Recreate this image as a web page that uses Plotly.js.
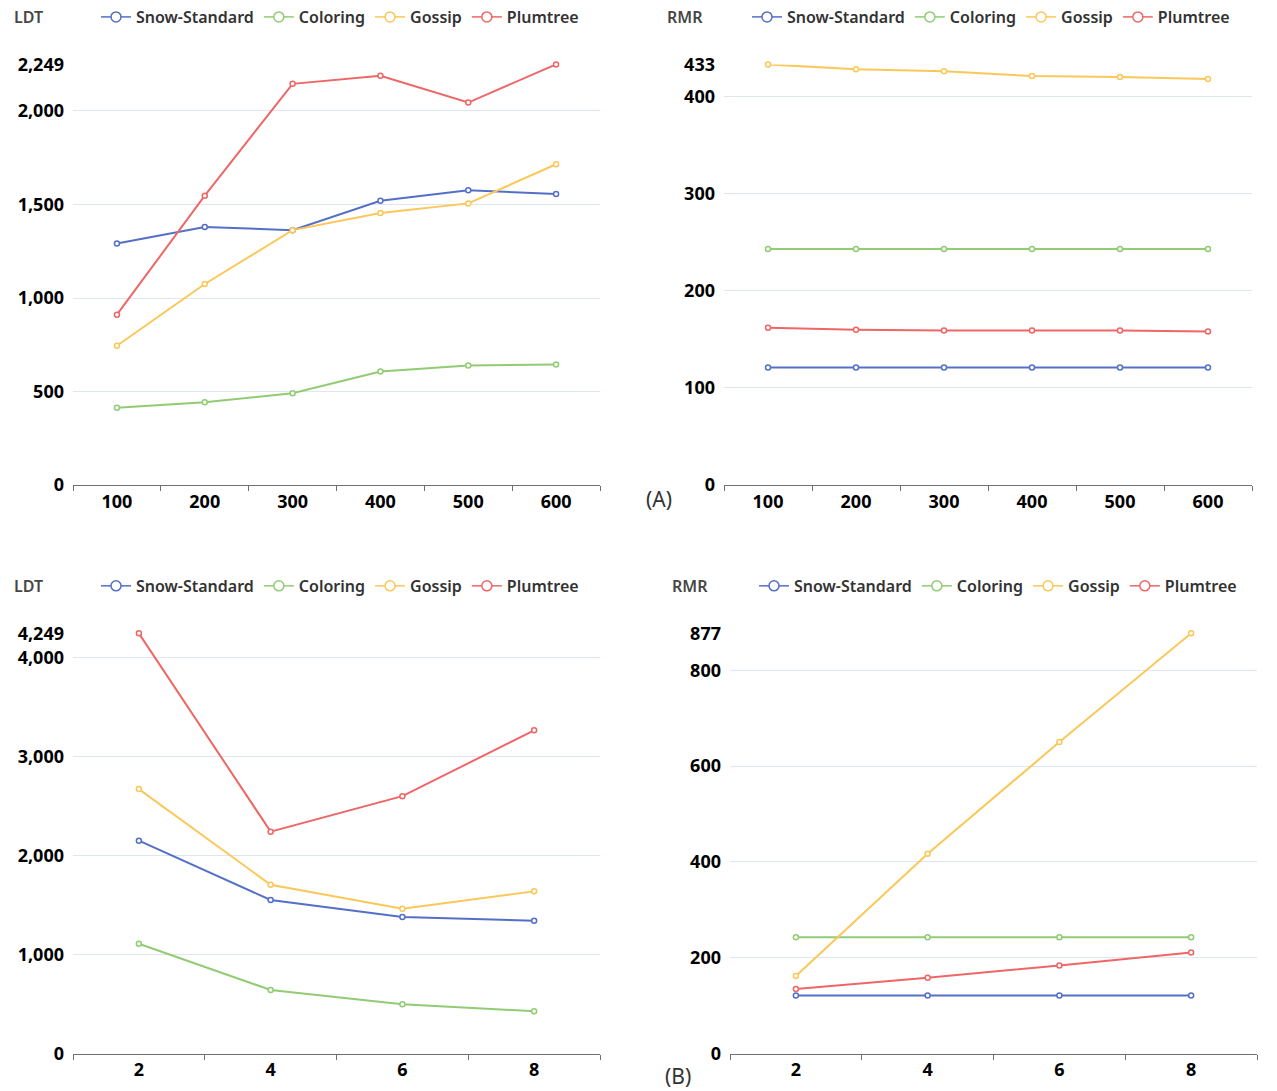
<!DOCTYPE html>
<html>
<head>
<meta charset="utf-8">
<script src="https://cdn.plot.ly/plotly-3.0.1.min.js"></script>
<style>
html,body{margin:0;padding:0;background:#fff;}
#chart{width:1277px;height:1091px;}
</style>
</head>
<body>
<div id="chart"></div>
<script>
// ---- data ----
var seriesNames = ['Snow-Standard', 'Coloring', 'Gossip', 'Plumtree'];
var seriesColors = ['#5470c6', '#91cc75', '#fac858', '#ee6666'];

var xTop = ['100', '200', '300', '400', '500', '600'];
var xBottom = ['2', '4', '6', '8'];

// (A) LDT
var ldtTopSnow = [1291, 1380, 1363, 1520, 1576, 1556];
var ldtTopColoring = [413, 443, 491, 607, 639, 645];
var ldtTopGossip = [745, 1075, 1363, 1454, 1506, 1715];
var ldtTopPlumtree = [911, 1547, 2145, 2188, 2045, 2249];
// (A) RMR
var rmrTopSnow = [121, 121, 121, 121, 121, 121];
var rmrTopColoring = [243, 243, 243, 243, 243, 243];
var rmrTopGossip = [433, 428, 426, 421, 420, 418];
var rmrTopPlumtree = [162, 160, 159, 159, 159, 158];
// (B) LDT
var ldtBotSnow = [2153, 1553, 1382, 1344];
var ldtBotColoring = [1110, 643, 498, 428];
var ldtBotGossip = [2674, 1707, 1465, 1640];
var ldtBotPlumtree = [4249, 2244, 2603, 3268];
// (B) RMR
var rmrBotSnow = [121, 121, 121, 121];
var rmrBotColoring = [243, 243, 243, 243];
var rmrBotGossip = [162, 417, 650, 877];
var rmrBotPlumtree = [135, 158, 184, 211];

// y tick values
var yTicksTL = [0, 500, 1000, 1500, 2000, 2249];
var yTicksTR = [0, 100, 200, 300, 400, 433];
var yTicksBL = [0, 1000, 2000, 3000, 4000, 4249];
var yTicksBR = [0, 200, 400, 600, 800, 877];

var axisNames = ['LDT', 'RMR', 'LDT', 'RMR'];
var panelLabels = ['(A)', '(B)'];

// ---- build ----
var W = 1277, H = 1091;
var FONT = 'Noto Sans, Open Sans, DejaVu Sans, sans-serif';

var panels = [
  {x: xTop, ys: [ldtTopSnow, ldtTopColoring, ldtTopGossip, ldtTopPlumtree], ticks: yTicksTL,
   px: [73, 600], py: [62.5, 484], legend: 'legend', legX: 96, nameX: 12, legY: 15},
  {x: xTop, ys: [rmrTopSnow, rmrTopColoring, rmrTopGossip, rmrTopPlumtree], ticks: yTicksTR,
   px: [724, 1252], py: [62.5, 484], legend: 'legend2', legX: 747, nameX: 665, legY: 15},
  {x: xBottom, ys: [ldtBotSnow, ldtBotColoring, ldtBotGossip, ldtBotPlumtree], ticks: yTicksBL,
   px: [73, 600], py: [632.5, 1053.5], legend: 'legend3', legX: 96, nameX: 12, legY: 585},
  {x: xBottom, ys: [rmrBotSnow, rmrBotColoring, rmrBotGossip, rmrBotPlumtree], ticks: yTicksBR,
   px: [730, 1257], py: [632.5, 1053.5], legend: 'legend4', legX: 754, nameX: 670, legY: 585}
];

var traces = [];
var layout = {
  width: W, height: H,
  margin: {l: 0, r: 0, t: 0, b: 0},
  paper_bgcolor: '#fff', plot_bgcolor: '#fff',
  font: {family: FONT, color: '#333'},
  annotations: [],
  hovermode: false
};

panels.forEach(function (p, i) {
  var n = i === 0 ? '' : String(i + 1);
  var xa = 'x' + n, ya = 'y' + n;
  p.ys.forEach(function (vals, k) {
    traces.push({
      type: 'scatter', mode: 'lines+markers',
      x: p.x, y: vals, xaxis: xa, yaxis: ya,
      name: seriesNames[k], showlegend: false,
      line: {color: seriesColors[k], width: 2},
      marker: {symbol: 'circle', size: 5, color: '#fff', line: {color: seriesColors[k], width: 1.5}},
      cliponaxis: false
    });
  });
  // legend entries (legend icons only, nothing drawn in the plot)
  seriesNames.forEach(function (name, k) {
    traces.push({
      type: 'scatter', mode: 'lines+markers',
      x: [p.x[0]], y: [null], xaxis: xa, yaxis: ya,
      name: name, legend: p.legend, showlegend: true,
      line: {color: seriesColors[k], width: 1.5},
      marker: {symbol: 'circle', size: 10, color: '#fff', line: {color: seriesColors[k], width: 1.5}}
    });
  });
  layout['xaxis' + n] = {
    type: 'category', anchor: ya,
    domain: [p.px[0] / W, p.px[1] / W],
    range: [-0.5, p.x.length - 0.5],
    tickson: 'boundaries', ticks: 'outside', ticklen: 5, tickcolor: '#6E7079', tickwidth: 1,
    showline: true, linecolor: '#6E7079', linewidth: 1,
    showgrid: false, zeroline: false,
    tickfont: {family: FONT, size: 18, color: '#000', weight: 'bold'},
    fixedrange: true
  };
  var maxV = p.ticks[p.ticks.length - 1];
  layout['yaxis' + n] = {
    anchor: xa,
    domain: [1 - p.py[1] / H, 1 - p.py[0] / H],
    range: [0, maxV],
    tickmode: 'array', tickvals: p.ticks,
    ticktext: p.ticks.map(function (v) { return v.toLocaleString('en-US'); }),
    showgrid: true, gridcolor: '#E0E6F1', gridwidth: 1,
    zeroline: false, showline: false, ticks: '',
    ticklabelstandoff: 8,
    tickfont: {family: FONT, size: 18, color: '#000', weight: 'bold'},
    fixedrange: true
  };
  layout[p.legend] = {
    orientation: 'h', x: p.legX / W, y: 1 - p.legY / H, xanchor: 'left', yanchor: 'middle',
    bgcolor: 'rgba(0,0,0,0)', borderwidth: 0,
    font: {family: FONT, size: 16, color: '#333', weight: 600},
    itemwidth: 30, tracegroupgap: 0
  };
  layout.annotations.push({
    xref: 'paper', yref: 'paper', x: p.nameX / W, y: 1 - p.legY / H,
    xanchor: 'left', yanchor: 'middle', showarrow: false,
    text: axisNames[i], font: {family: FONT, size: 16, color: '#464646', weight: 600}
  });
});

layout.annotations.push({
  xref: 'paper', yref: 'paper', x: 659 / W, y: 1 - 498 / H, xanchor: 'center', yanchor: 'middle',
  showarrow: false, text: panelLabels[0], font: {family: FONT, size: 21, color: '#333'}
});
layout.annotations.push({
  xref: 'paper', yref: 'paper', x: 678 / W, y: 1 - 1076 / H, xanchor: 'center', yanchor: 'middle',
  showarrow: false, text: panelLabels[1], font: {family: FONT, size: 21, color: '#333'}
});

Plotly.newPlot('chart', traces, layout, {displayModeBar: false, staticPlot: true});
</script>
</body>
</html>
